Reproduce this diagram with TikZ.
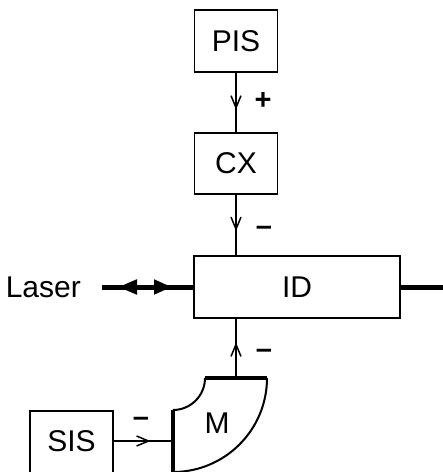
\documentclass[tikz,border=0pt]{standalone}
\usepackage{fontspec}
\setmainfont{Liberation Sans}
\usetikzlibrary{arrows.meta,decorations.markings}
\tikzset{
  blk/.style={draw, line width=1.6pt, inner sep=0pt, font=\fontsize{30}{32}\selectfont},
  sign/.style={inner sep=0pt, font=\bfseries\fontsize{29}{31}\selectfont},
  thin/.style={line width=2pt},
  thick line/.style={line width=5pt},
  midv/.style={decoration={markings, mark=at position #1 with {\arrow{Straight Barb[length=12pt,width=10pt,line width=1.5pt]}}}, postaction={decorate}},
}
\begin{document}
\begin{tikzpicture}[x=1pt,y=-1pt]
\clip (0,0) rectangle (443,472);
% boxes
\node[blk, minimum width=83pt, minimum height=62pt] (PIS) at (236,41) {PIS};
\node[blk, minimum width=83pt, minimum height=61pt] (CX) at (236,163.5) {CX};
\node[blk, minimum width=206pt, minimum height=62pt] (ID) at (297,287) {ID};
\node[blk, minimum width=83pt, text height=41pt, text depth=30pt, anchor=north] (SIS) at (71.5,410) {SIS};
\node[inner sep=0pt, font=\fontsize{30}{32}\selectfont, anchor=base east] (laser) at (81,297) {Laser};
\node[inner sep=0pt, font=\fontsize{30}{32}\selectfont, anchor=base] (M) at (217,433) {M};
% M shape
\draw[thin] (173,472) arc[start angle=90, end angle=0, radius=94];
\draw[thin] (205,378) arc[start angle=0, end angle=90, radius=32];
\draw[line width=3.2pt] (267,378) -- (205,378);
\draw[line width=3.2pt] (173,410) -- (173,472);
\coordinate (Mtop) at (236,378);
\coordinate (Mleft) at (173,441);
% connectors
\draw[thin, midv=0.62] (PIS.south) -- (CX.north);
\draw[thin, midv=0.6] (CX.south) -- (CX.south |- ID.north);
\draw[thin, midv=0.6] (Mtop) -- (Mtop |- ID.south);
\draw[thin, midv=0.62] (SIS.east |- Mleft) -- (Mleft);
\coordinate (laserend) at (102,287);
\coordinate (rightend) at (443,287);
\draw[thick line,
  decoration={markings,
    mark=at position 70pt with {\arrow{Triangle[length=18pt,width=14pt]}},
    mark=at position 35pt with {\arrow{Triangle[length=19pt,width=14pt,reversed]}}},
  postaction={decorate}] (laserend) -- (ID.west);
\draw[thick line] (ID.east) -- (rightend);
% signs
\node[sign] (p1) at (263,101) {+};
\node[sign, anchor=base] (m1) at (264,235.5) {–};
\node[sign, anchor=base] (m2) at (264,358.5) {–};
\node[sign, anchor=base] (m3) at (141,426.5) {–};
\end{tikzpicture}
\end{document}
